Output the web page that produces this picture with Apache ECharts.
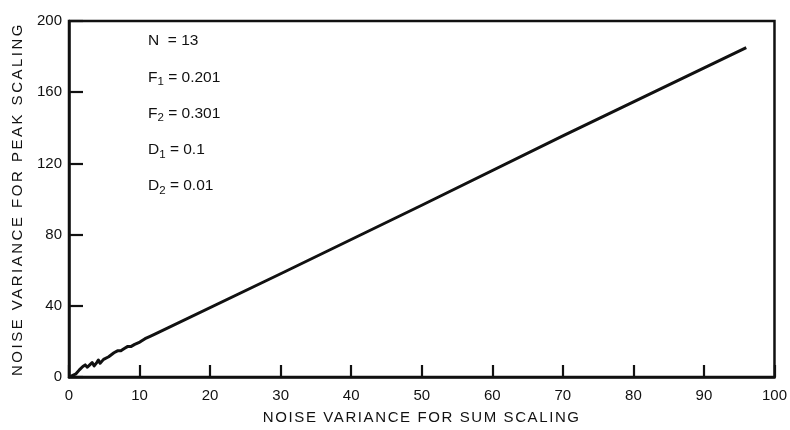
<!DOCTYPE html>
<html>
<head>
<meta charset="utf-8">
<script src="https://cdn.jsdelivr.net/npm/echarts@6/dist/echarts.min.js"></script>
<style>
  html, body { margin: 0; padding: 0; background: #fff; }
  #chart { width: 790px; height: 430px; }
</style>
</head>
<body>
<div id="chart"></div>
<script>
// Noise variance: sum scaling (x) against peak scaling (y)
const sumVar  = [0, 0.99, 1.47, 1.96, 2.3, 2.6, 2.94, 3.28, 3.57, 3.93, 4.16, 4.41, 4.9, 5.63, 6.37, 6.87, 7.35, 7.84, 8.34, 8.82, 9.31, 10.04, 10.78, 11.5, 12.25, 30, 50, 70, 96];
const peakVar = [0, 1.8, 4.0, 5.9, 6.8, 5.5, 6.8, 8.1, 6.2, 8.1, 9.5, 7.7, 9.9, 11.4, 13.6, 14.7, 14.7, 16.0, 17.2, 17.2, 18.3, 19.6, 21.5, 22.8, 24.2, 58.0, 96.5, 135.5, 185];

// Parameter block shown in the upper left
const paramNames = ['N', 'F', 'F', 'D', 'D'];
const paramSubs  = ['', '1', '2', '1', '2'];
const paramVals  = ['13', '0.201', '0.301', '0.1', '0.01'];

const xTitle = 'NOISE VARIANCE FOR SUM SCALING';
const yTitle = 'NOISE VARIANCE FOR PEAK SCALING';

const ink = '#111';
const font = 'Liberation Sans, Arial, Helvetica, sans-serif';

// Axis titles are set with wide letter spacing; every other text keeps normal spacing
const titleSpacing = {};
titleSpacing[xTitle] = '1.6px';
titleSpacing[yTitle] = '2.5px';
const baseFillText = CanvasRenderingContext2D.prototype.fillText;
CanvasRenderingContext2D.prototype.fillText = function (text) {
  if (!('letterSpacing' in this)) return baseFillText.apply(this, arguments);
  const f = this.font;
  this.letterSpacing = titleSpacing[text] || '0px';
  this.font = f;
  const r = baseFillText.apply(this, arguments);
  this.letterSpacing = '0px';
  this.font = f;
  return r;
};

const chart = echarts.init(document.getElementById('chart'));

const paramText = paramNames.map((n, i) => {
  const sub = paramSubs[i] ? '{s|' + paramSubs[i] + '}' : '{n| }';
  return {
    type: 'text',
    left: 148,
    top: 33 + i * 36.3,
    style: {
      text: '{n|' + n + '}' + sub + '{n| = ' + paramVals[i] + '}',
      rich: {
        n: { fontSize: 15.5, fontFamily: font, fill: ink },
        s: { fontSize: 11.5, fontFamily: font, fill: ink, padding: [9, 0, 0, 0] }
      }
    }
  };
});

chart.setOption({
  animation: false,
  backgroundColor: '#fff',
  grid: {
    left: 69, right: 12, top: 21, bottom: 46,
    show: true, borderColor: ink, borderWidth: 2.5, backgroundColor: 'transparent'
  },
  xAxis: {
    type: 'value', min: 0, max: 100, interval: 10,
    name: xTitle, nameLocation: 'middle', nameGap: 33,
    nameTextStyle: { fontSize: 15, fontFamily: font, color: ink },
    axisLine: { show: true, lineStyle: { color: ink, width: 2.5 } },
    axisTick: { show: true, inside: true, length: 12, lineStyle: { color: ink, width: 2.2 } },
    axisLabel: { fontSize: 15, fontFamily: font, color: ink, margin: 11 },
    splitLine: { show: false }
  },
  yAxis: {
    type: 'value', min: 0, max: 200, interval: 40,
    name: yTitle, nameLocation: 'middle', nameGap: 44, nameRotate: 90,
    nameTextStyle: { fontSize: 15, fontFamily: font, color: ink },
    axisLine: { show: true, lineStyle: { color: ink, width: 2.5 } },
    axisTick: { show: true, inside: true, length: 14, lineStyle: { color: ink, width: 2.2 } },
    axisLabel: { fontSize: 15, fontFamily: font, color: ink, margin: 7 },
    splitLine: { show: false }
  },
  series: [{
    type: 'line',
    data: sumVar.map((x, i) => [x, peakVar[i]]),
    showSymbol: false,
    lineStyle: { color: ink, width: 3, join: 'round' }
  }],
  graphic: paramText
});
</script>
</body>
</html>
